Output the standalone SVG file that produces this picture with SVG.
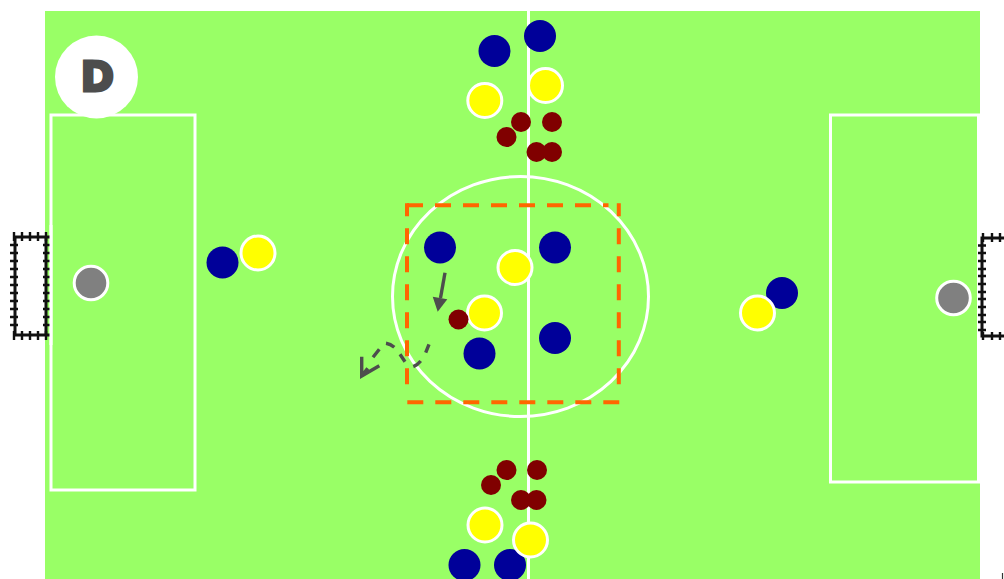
<svg xmlns="http://www.w3.org/2000/svg" width="1004" height="579" viewBox="0 0 1004 579">
<style>
.line{fill:none;stroke:#fff;stroke-width:3}
.blue{fill:#000099}
.yel{fill:#ffff00;stroke:#fff;stroke-width:3}
.red{fill:#800000}
.gk{fill:#808080;stroke:#fff;stroke-width:3}
.arrow{fill:none;stroke:#4d4d4d;stroke-width:3.4}
.g{fill:none;stroke:#111;stroke-width:3}
.t{fill:none;stroke:#111;stroke-width:2.4}
.z{fill:none;stroke:#ff6600;stroke-width:4;stroke-dasharray:16 12}
</style>
<rect width="1004" height="579" fill="#fff"/>
<g id="field">
<rect x="45" y="11" width="935" height="568" fill="#99ff66"/>
<path class="line" d="M528.500 11V579"/>
<ellipse class="line" cx="520.500" cy="296.500" rx="128" ry="120"/>
<rect class="line" x="51" y="115" width="144" height="375"/>
<rect class="line" x="830.500" y="115" width="148" height="367"/>
</g>
<g id="goal-left">
<path class="g" d="M51 237H15V335H51M46 237V335"/>
<path class="t" d="M14 232V241M22 232V241M30 232V241M38 232V241M46 232V241M14 331V340M22 331V340M30 331V340M38 331V340M46 331V340"/>
<path class="t" d="M10 245H18M10 253H18M10 261H18M10 269H18M10 277H18M10 285H18M10 293H18M10 301H18M10 309H18M10 317H18M10 325H18M43 245H51M43 253H51M43 261H51M43 269H51M43 277H51M43 285H51M43 293H51M43 301H51M43 309H51M43 317H51M43 325H51"/>
<path class="line" d="M51 225V345"/>
</g>
<g id="goal-right">
<path class="g" d="M1004 238H982V336H1004"/>
<path class="t" d="M983 233V242M992 233V242M1000 233V242M983 332V340M992 332V340M1000 332V340"/>
<path class="t" d="M978 245.500H986M978 253H986M978 261H986M978 269H986M978 276H986M978 284H986M978 292H986M978 299H986M978 307H986M978 315H986M978 322H986M978 330H986"/>
</g>
<g id="zone">
<path class="z" d="M407 205.300H608.500"/>
<path class="z" d="M407.300 402.300H619.500"/>
<path class="z" stroke-dashoffset="3" d="M407 203.300V396"/>
<path class="z" stroke-dashoffset="3" d="M618.800 203.300V396"/>
</g>
<g id="badge"><circle cx="96.500" cy="77" r="41.500" fill="#fff"/>
<text x="97.300" y="90.500" text-anchor="middle" font-family="'DejaVu Sans',sans-serif" font-weight="700" font-size="40" fill="#4d4d4d" stroke="#4d4d4d" stroke-width="3">D</text></g>
<g id="players-blue">
<circle class="blue" cx="494.500" cy="51" r="16"/><circle class="blue" cx="540" cy="36" r="16"/>
<circle class="blue" cx="222.500" cy="262.500" r="16"/><circle class="blue" cx="440" cy="247.500" r="16"/><circle class="blue" cx="555" cy="247.500" r="16"/>
<circle class="blue" cx="555" cy="338" r="16"/><circle class="blue" cx="479.500" cy="353.500" r="16"/><circle class="blue" cx="782" cy="293" r="16"/>
<circle class="blue" cx="464.500" cy="565" r="16"/><circle class="blue" cx="510" cy="565" r="16"/>
</g>
<g id="players-yellow">
<circle class="yel" cx="484.800" cy="100.500" r="17"/><circle class="yel" cx="545.500" cy="85.500" r="17"/>
<circle class="yel" cx="258" cy="253" r="17"/><circle class="yel" cx="515" cy="267.500" r="17"/><circle class="yel" cx="484.500" cy="313" r="17"/>
<circle class="yel" cx="757.500" cy="313" r="17"/><circle class="yel" cx="485" cy="525" r="17"/><circle class="yel" cx="530.500" cy="540" r="17"/>
</g>
<g id="balls">
<circle class="red" cx="521" cy="122" r="10"/><circle class="red" cx="552" cy="122" r="10"/><circle class="red" cx="506.500" cy="137" r="10"/><circle class="red" cx="536.500" cy="152" r="10"/><circle class="red" cx="552" cy="152" r="10"/>
<circle class="red" cx="458.500" cy="319.500" r="10"/>
<circle class="red" cx="506.500" cy="470" r="10"/><circle class="red" cx="537" cy="470" r="10"/><circle class="red" cx="491" cy="485" r="10"/><circle class="red" cx="521" cy="500" r="10"/><circle class="red" cx="536.500" cy="500" r="10"/>
</g>
<g id="keepers"><circle class="gk" cx="91" cy="283" r="16.800"/><circle class="gk" cx="953.500" cy="298" r="16.800"/></g>
<g id="connectors">
<path class="arrow" d="M445 272.700L440.500 298"/>
<path d="M432.700 296.700L447.300 299.300L437.700 311.700Z" fill="#4d4d4d"/>
<path class="arrow" d="M429 344.300L425.700 352.700M420.700 361Q417.500 365 413.300 366.700M405 361.700L400 354.300M394.300 347.300Q390.500 344 386 343.300M379.300 349.300L373 357.300"/>
<path class="arrow" d="M361.700 356.700V376L379.300 365.700M361.700 376L367.700 368.300"/>
</g>
<path id="edge-mark" d="M1002.500 573V579" stroke="#333" stroke-width="1.200" fill="none"/>
</svg>
